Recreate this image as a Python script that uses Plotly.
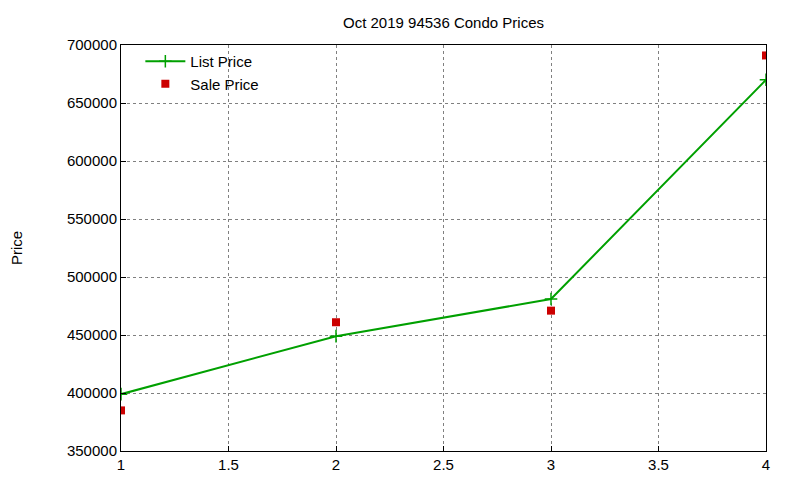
import plotly.graph_objects as go

x_vals = [1, 2, 3, 4]
list_price = [399000, 449000, 481000, 670000]
sale_price = [385000, 461000, 471000, 691000]

fig = go.Figure()
fig.add_trace(go.Scatter(x=x_vals, y=list_price, mode="lines+markers", name="List Price",
                         line=dict(color="#00a000", width=2),
                         marker=dict(symbol="cross-thin", size=9, line=dict(color="#00a000", width=1.5))))
fig.add_trace(go.Scatter(x=x_vals, y=sale_price, mode="markers", name="Sale Price",
                         marker=dict(symbol="square", size=8, color="#cc0000")))

ax = dict(showline=True, mirror=True, linecolor="black", linewidth=1, ticks="inside",
          tickcolor="black", ticklen=5, showgrid=True, gridcolor="#808080", griddash="dot",
          gridwidth=1, zeroline=False, automargin=False, tickfont=dict(size=15, color="black"))
fig.update_xaxes(range=[1, 4], dtick=0.5, **ax)
fig.update_yaxes(range=[350000, 700000], dtick=50000, tickformat="d",
                 title=dict(text="Price", font=dict(size=15, color="black"), standoff=40), **ax)
fig.update_layout(
    width=800, height=480, plot_bgcolor="white", paper_bgcolor="white",
    font=dict(family="Liberation Sans, Arial, sans-serif", color="black"),
    margin=dict(l=113, r=42, t=37, b=37),
    title=dict(text="Oct 2019 94536 Condo Prices", x=0.5, xref="paper", y=0.97, yanchor="middle",
               font=dict(size=15, color="black")),
    legend=dict(x=0.03, y=1.0, xanchor="left", yanchor="top", bgcolor="rgba(0,0,0,0)",
                font=dict(size=15, color="black"), tracegroupgap=0, itemwidth=40),
    showlegend=True,
)
fig.write_html("out.html")
